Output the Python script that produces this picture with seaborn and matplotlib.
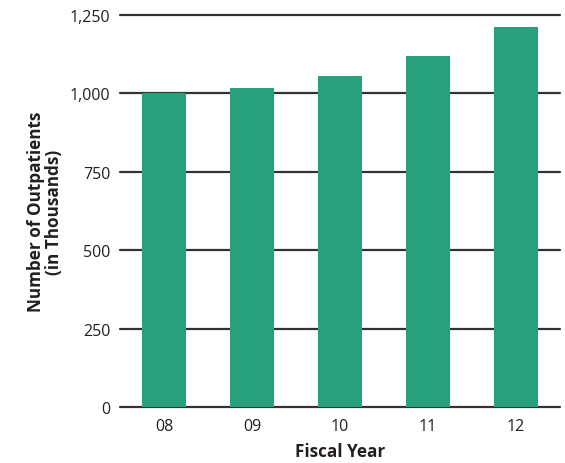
import matplotlib
matplotlib.use("Agg")
import matplotlib.pyplot as plt
import seaborn as sns
import pandas as pd

years = ["08", "09", "10", "11", "12"]
outpatients = [1002, 1016, 1054, 1118, 1213]
yticks = [0, 250, 500, 750, 1000, 1250]
ytick_labels = ["0", "250", "500", "750", "1,000", "1,250"]

sns.set_theme(style="white")
plt.rcParams['font.family'] = ['Open Sans', 'DejaVu Sans']

df = pd.DataFrame({"year": years, "value": outpatients})

fig = plt.figure(figsize=(5.65, 4.64), dpi=100)
ax = fig.add_axes([120/565, 1 - 408/464, 440/565, 392/464])

ax.set_axisbelow(True)
for t in yticks:
    ax.axhline(t, color="#333333", lw=1.6, zorder=0, clip_on=False)

sns.barplot(data=df, x="year", y="value", color="#27A17B", saturation=1,
            width=0.49, ax=ax, zorder=2, linewidth=0, edgecolor="none")

ax.set_ylim(0, 1250)
ax.set_xlim(-0.5, 4.5)
ax.set_yticks(yticks)
ax.set_yticklabels(ytick_labels)
for s in ax.spines.values():
    s.set_visible(False)
ax.tick_params(axis="y", length=0, pad=7, labelsize=11.5, colors="#231f20")
ax.tick_params(axis="x", length=0, pad=8, labelsize=11.5, colors="#231f20")
ax.set_xlabel("Fiscal Year", fontsize=12.3, fontweight="bold", color="#231f20", labelpad=6)
ax.set_ylabel("Number of Outpatients\n(in Thousands)", fontsize=12.3, fontweight="bold",
              color="#231f20", linespacing=1.0)
ax.yaxis.set_label_coords(-0.13, 0.5)

fig.savefig("out.png", dpi=100)
